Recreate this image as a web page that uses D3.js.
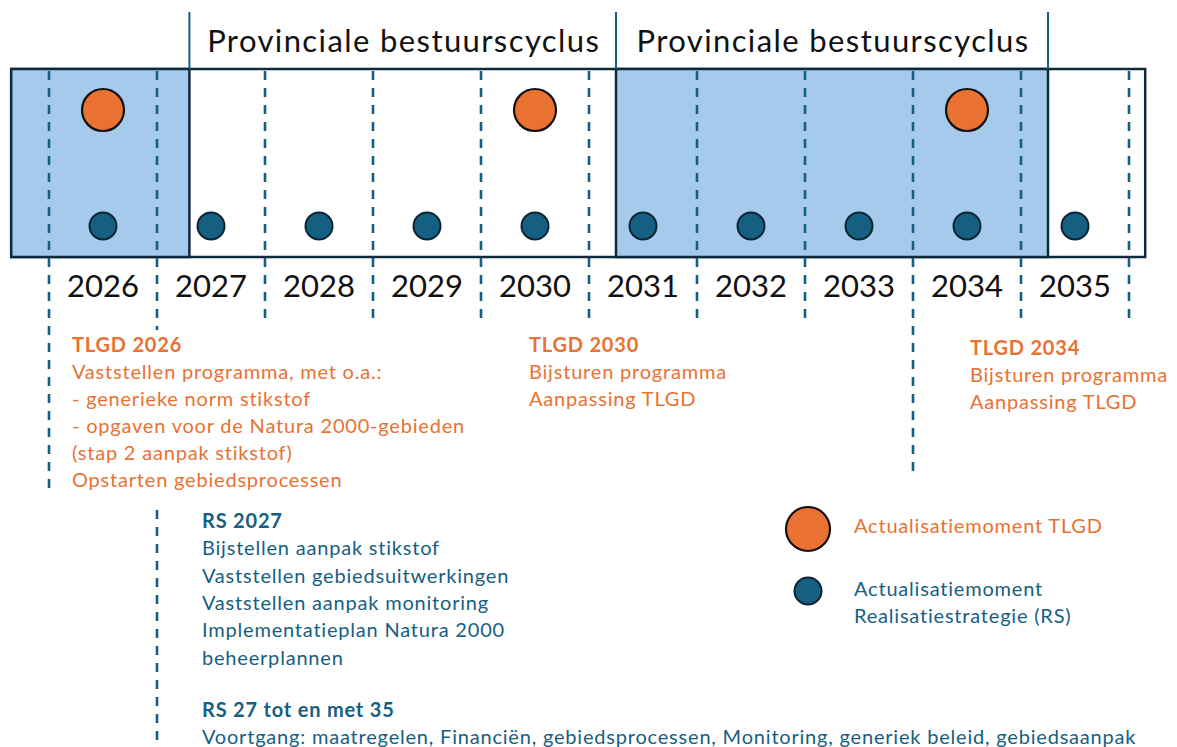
<!DOCTYPE html>
<html><head><meta charset="utf-8">
<script src="https://cdn.jsdelivr.net/npm/d3@7"></script>
<style>
body{margin:0;background:#fff}
svg{display:block}
text{font-family:Lato, "Noto Sans", sans-serif}
</style>
</head><body>
<svg id="chart" width="1177" height="747"></svg>
<script>
// ---- data ----
const years = [2026, 2027, 2028, 2029, 2030, 2031, 2032, 2033, 2034, 2035];
const yearLabels = ["2026","2027","2028","2029","2030","2031","2032","2033","2034","2035"];
const tlgdYears = [2026, 2030, 2034];
const rsYears = [2026, 2027, 2028, 2029, 2030, 2031, 2032, 2033, 2034, 2035];
const cycleBounds = [2027.3, 2031.25, 2035.25];
const cycleLabels = ["Provinciale bestuurscyclus", "Provinciale bestuurscyclus"];
const shadedPeriods = [[2025.65, 2027.3], [2031.25, 2035.25]];
const timelineSpan = [2025.65, 2036.15];
const tlgd2026Lines = ["TLGD 2026", "Vaststellen programma, met o.a.:", "- generieke norm stikstof",
  "- opgaven voor de Natura 2000-gebieden", "(stap 2 aanpak stikstof)", "Opstarten gebiedsprocessen"];
const tlgd2030Lines = ["TLGD 2030", "Bijsturen programma", "Aanpassing TLGD"];
const tlgd2034Lines = ["TLGD 2034", "Bijsturen programma", "Aanpassing TLGD"];
const rs2027Lines = ["RS 2027", "Bijstellen aanpak stikstof", "Vaststellen gebiedsuitwerkingen",
  "Vaststellen aanpak monitoring", "Implementatieplan Natura 2000", "beheerplannen"];
const rsAllLines = ["RS 27 tot en met 35",
  "Voortgang: maatregelen, Financiën, gebiedsprocessen, Monitoring, generiek beleid, gebiedsaanpak"];
const legendLabels = [["Actualisatiemoment TLGD"], ["Actualisatiemoment", "Realisatiestrategie (RS)"]];

// ---- style ----
const ORANGE = "#e97132", TEAL = "#156082", DARK = "#0e2a3b", SHADE = "#a6caec";
const SMALL = 20, SMALL_LS = 0.8;

const svg = d3.select("#chart");
const x = d3.scaleLinear().domain([2026, 2036]).range([49, 1129]);
const step = x(2027) - x(2026);
const row = d3.scalePoint().domain(["TLGD", "RS"]).range([110, 226]);
const boxTop = 69, boxBottom = 257;

// timeline box
svg.append("rect")
  .attr("x", x(timelineSpan[0])).attr("y", boxTop)
  .attr("width", x(timelineSpan[1]) - x(timelineSpan[0])).attr("height", boxBottom - boxTop)
  .attr("fill", "#fff").attr("stroke", DARK).attr("stroke-width", 2.5);

svg.selectAll("rect.shade").data(shadedPeriods).join("rect").attr("class", "shade")
  .attr("x", d => x(d[0])).attr("y", boxTop)
  .attr("width", d => x(d[1]) - x(d[0])).attr("height", boxBottom - boxTop)
  .attr("fill", SHADE).attr("stroke", DARK).attr("stroke-width", 2.5);

// cycle brackets above
svg.selectAll("line.cycle").data(cycleBounds).join("line").attr("class", "cycle")
  .attr("x1", d => x(d)).attr("x2", d => x(d)).attr("y1", 12).attr("y2", boxTop)
  .attr("stroke", TEAL).attr("stroke-width", 2);

svg.selectAll("text.cycle").data(cycleLabels).join("text").attr("class", "cycle")
  .attr("x", (d, i) => (x(cycleBounds[i]) + x(cycleBounds[i + 1])) / 2 + 1)
  .attr("y", 52).attr("text-anchor", "middle")
  .attr("font-size", 31).attr("letter-spacing", 1.4).attr("fill", "#111").text(d => d);

// dashed year boundaries
const boundaryYears = years.concat([2036]);
const dashEnd = {2026: 490, 2027: 330, 2034: 475};
svg.selectAll("line.dash").data(boundaryYears).join("line").attr("class", "dash")
  .attr("x1", d => x(d)).attr("x2", d => x(d))
  .attr("y1", boxTop + 2).attr("y2", d => dashEnd[d] || 322)
  .attr("stroke", TEAL).attr("stroke-width", 2.6).attr("stroke-dasharray", "9,8");
svg.append("line")
  .attr("x1", x(2027)).attr("x2", x(2027)).attr("y1", 510).attr("y2", 747)
  .attr("stroke", TEAL).attr("stroke-width", 2.6).attr("stroke-dasharray", "9,8");

// year labels
svg.selectAll("text.year").data(years).join("text").attr("class", "year")
  .attr("x", d => x(d) + step / 2).attr("y", 297).attr("text-anchor", "middle")
  .attr("font-size", 31).attr("fill", "#111").text((d, i) => yearLabels[i]);

// markers
svg.selectAll("circle.tlgd").data(tlgdYears).join("circle").attr("class", "tlgd")
  .attr("cx", d => x(d) + step / 2).attr("cy", row("TLGD")).attr("r", 21)
  .attr("fill", ORANGE).attr("stroke", "#111").attr("stroke-width", 2.2);
svg.selectAll("circle.rs").data(rsYears).join("circle").attr("class", "rs")
  .attr("cx", d => x(d) + step / 2).attr("cy", row("RS")).attr("r", 13.5)
  .attr("fill", TEAL).attr("stroke", "#0c2533").attr("stroke-width", 2);

// text blocks
function block(lines, px, py, color, lh) {
  const g = svg.append("g").attr("transform", `translate(${px},${py})`);
  g.selectAll("text").data(lines).join("text")
    .attr("x", 0).attr("y", (d, i) => i * lh)
    .attr("font-size", SMALL).attr("letter-spacing", SMALL_LS)
    .attr("font-weight", (d, i) => i === 0 ? 700 : 400)
    .attr("fill", color).text(d => d);
}
block(tlgd2026Lines, 72, 352, ORANGE, 27);
block(tlgd2030Lines, 529, 352, ORANGE, 27);
block(tlgd2034Lines, 970, 355, ORANGE, 27);
block(rs2027Lines, 202, 528, TEAL, 27.3);
block(rsAllLines, 202, 717, TEAL, 27);

// legend
const lg = svg.append("g");
lg.append("circle").attr("cx", 808).attr("cy", 529).attr("r", 22)
  .attr("fill", ORANGE).attr("stroke", "#111").attr("stroke-width", 2.2);
lg.append("circle").attr("cx", 808).attr("cy", 591).attr("r", 13.5)
  .attr("fill", TEAL).attr("stroke", "#0c2533").attr("stroke-width", 2);
lg.append("text").attr("x", 854).attr("y", 533).attr("font-size", SMALL)
  .attr("letter-spacing", SMALL_LS).attr("fill", ORANGE)
  .text(legendLabels[0][0]);
lg.selectAll("text.l2").data(legendLabels[1]).join("text").attr("class", "l2")
  .attr("x", 854).attr("y", (d, i) => 596 + i * 27).attr("font-size", SMALL)
  .attr("letter-spacing", SMALL_LS).attr("fill", TEAL)
  .text(d => d);
</script>
</body></html>
